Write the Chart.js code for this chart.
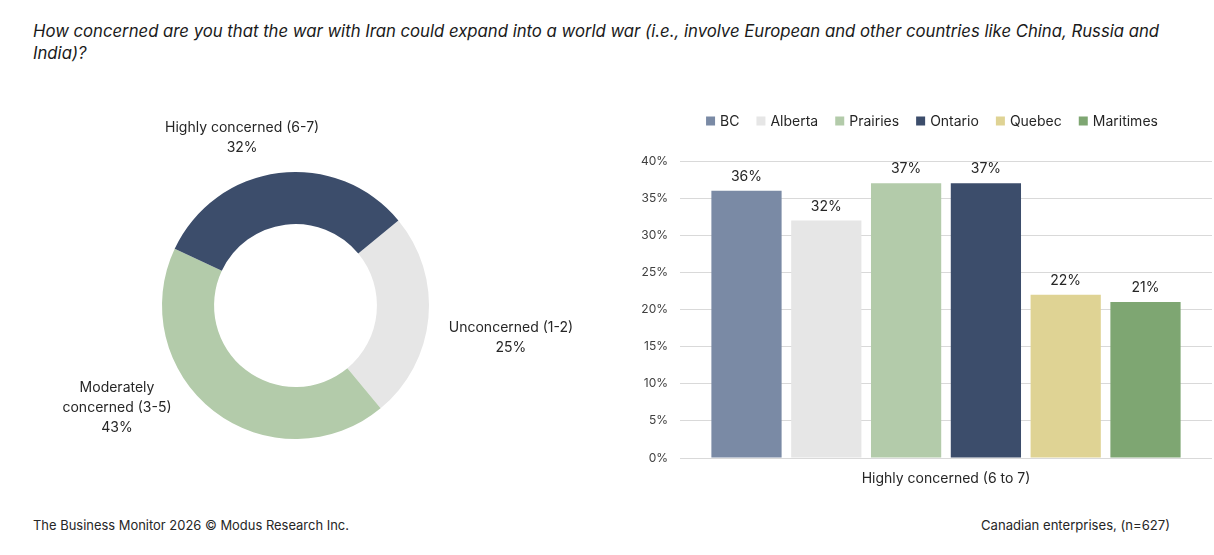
<!DOCTYPE html>
<html><head><meta charset="utf-8">
<script src="https://cdn.jsdelivr.net/npm/chart.js@4"></script>
<style>
body{margin:0;background:#fff;width:1214px;height:555px;overflow:hidden;position:relative;font-family:Inter,"Noto Sans",sans-serif;}
#title{position:absolute;left:33px;top:20px;font-style:italic;font-size:17px;line-height:22px;color:#1a1a1a;white-space:nowrap;}
.foot{position:absolute;top:517px;font-size:13px;line-height:16px;color:#262626;white-space:nowrap}
#c1{position:absolute;left:0;top:100px}
#c2{position:absolute;left:620px;top:100px}
</style></head>
<body>
<div id="title"><span id="t1">How concerned are you that the war with Iran could expand into a world war (i.e., involve European and other countries like China, Russia and</span><br><span id="t2">India)?</span></div>
<div class="foot" id="f1" style="left:33px">The Business Monitor 2026 © Modus Research Inc.</div>
<div class="foot" id="f2" style="right:44px">Canadian enterprises, (n=627)</div>
<canvas id="c1" width="600" height="400"></canvas>
<canvas id="c2" width="594" height="400"></canvas>
<script>
// ---- data ----
const donutLabels = ['Unconcerned (1-2)', 'Moderately concerned (3-5)', 'Highly concerned (6-7)'];
const donutLabelLines = [['Unconcerned (1-2)'], ['Moderately', 'concerned (3-5)'], ['Highly concerned (6-7)']];
const donutValues = [25, 43, 32];
const barCategories = ['Highly concerned (6 to 7)'];
const regions = ['BC', 'Alberta', 'Prairies', 'Ontario', 'Quebec', 'Maritimes'];
const highlyByRegion = [36, 32, 37, 37, 22, 21];
const yTicks = [0, 5, 10, 15, 20, 25, 30, 35, 40];

// ---- styles ----
const FONT = 'Inter, "Noto Sans", sans-serif';
const TXT = '#262626';
const donutColors = ['#E6E6E6', '#B3CBAA', '#3C4D6B'];
const regionColors = ['#7A8AA5', '#E6E6E6', '#B3CBAA', '#3C4D6B', '#DFD394', '#7EA672'];
// label anchor offsets relative to donut centre, in units of outer radius
const donutLabelPos = [[1.614, 0.24], [-1.337, 0.768], [-0.40, -1.255]];

function fit(id, target) {
  const el = document.getElementById(id);
  const cs = getComputedStyle(el);
  const c = document.createElement('canvas').getContext('2d');
  const size = parseFloat(cs.fontSize);
  c.font = cs.fontStyle + ' ' + size + 'px ' + cs.fontFamily;
  const w = c.measureText(el.textContent).width;
  el.style.fontSize = (size * target / w).toFixed(2) + 'px';
}
fit('t1', 1127); fit('f1', 316); fit('f2', 189);
document.getElementById('t2').style.fontSize = document.getElementById('t1').style.fontSize;

const donutLabelPlugin = {
  id: 'donutLabels',
  afterDraw(chart) {
    const ctx = chart.ctx;
    const meta = chart.getDatasetMeta(0);
    ctx.save();
    ctx.font = '14px ' + FONT;
    ctx.fillStyle = TXT;
    ctx.textAlign = 'center';
    ctx.textBaseline = 'middle';
    meta.data.forEach((arc, i) => {
      const R = arc.outerRadius;
      const ax = arc.x + donutLabelPos[i][0] * R;
      const ay = arc.y + donutLabelPos[i][1] * R;
      const lines = donutLabelLines[i].concat([donutValues[i] + '%']);
      const lh = 20;
      const y0 = ay - (lines.length - 1) * lh / 2;
      lines.forEach((l, k) => ctx.fillText(l, ax, y0 + k * lh));
    });
    ctx.restore();
  }
};

new Chart(document.getElementById('c1'), {
  type: 'doughnut',
  data: { labels: donutLabels, datasets: [{ data: donutValues, backgroundColor: donutColors, borderWidth: 0 }] },
  options: {
    responsive: false, animation: false, rotation: 50.4, cutout: '61%',
    layout: { padding: { left: 162, right: 171, top: 72, bottom: 61 } },
    plugins: { legend: { display: false }, tooltip: { enabled: false } }
  },
  plugins: [donutLabelPlugin]
});

const legendPlugin = {
  id: 'customLegend',
  afterDraw(chart) {
    const ctx = chart.ctx;
    ctx.save();
    ctx.font = '14px ' + FONT;
    ctx.textBaseline = 'middle';
    const box = 9, gap = 5, space = 17;
    const widths = regions.map(r => box + gap + ctx.measureText(r).width);
    const total = widths.reduce((a, b) => a + b, 0) + space * (regions.length - 1);
    let x = 312 - total / 2;
    const y = 21;
    regions.forEach((r, i) => {
      ctx.fillStyle = regionColors[i];
      ctx.fillRect(x, y - box / 2, box, box);
      ctx.fillStyle = TXT;
      ctx.fillText(r, x + box + gap, y + 0.5);
      x += widths[i] + space;
    });
    ctx.restore();
  }
};

const valueLabelPlugin = {
  id: 'valueLabels',
  afterDatasetsDraw(chart) {
    const ctx = chart.ctx;
    ctx.save();
    ctx.font = '14px ' + FONT;
    ctx.fillStyle = TXT;
    ctx.textAlign = 'center';
    ctx.textBaseline = 'middle';
    chart.data.datasets.forEach((ds, i) => {
      chart.getDatasetMeta(i).data.forEach((bar, j) => {
        ctx.fillText(ds.data[j] + '%', bar.x, bar.y - 14);
      });
    });
    ctx.restore();
  }
};

new Chart(document.getElementById('c2'), {
  type: 'bar',
  data: {
    labels: barCategories,
    datasets: regions.map((r, i) => ({
      label: r, data: [highlyByRegion[i]], backgroundColor: regionColors[i],
      categoryPercentage: 0.9, barPercentage: 0.88
    }))
  },
  options: {
    responsive: false, animation: false,
    layout: { padding: { left: 0, right: 2, top: 61, bottom: 0 } },
    plugins: { legend: { display: false }, tooltip: { enabled: false } },
    scales: {
      x: {
        grid: { display: false }, border: { display: false },
        ticks: { font: { size: 14, family: FONT }, color: TXT, padding: 4 },
        afterFit(s) { s.height = 42; }
      },
      y: {
        min: 0, max: 40,
        afterBuildTicks(s) { s.ticks = yTicks.map(v => ({ value: v })); },
        ticks: { callback: v => v + '%', font: { size: 12, family: FONT }, color: '#404040', padding: 12 },
        grid: { color: '#D9D9D9', drawTicks: false },
        border: { display: false },
        afterFit(s) { s.width = 60; }
      }
    }
  },
  plugins: [legendPlugin, valueLabelPlugin]
});
</script>
</body></html>
